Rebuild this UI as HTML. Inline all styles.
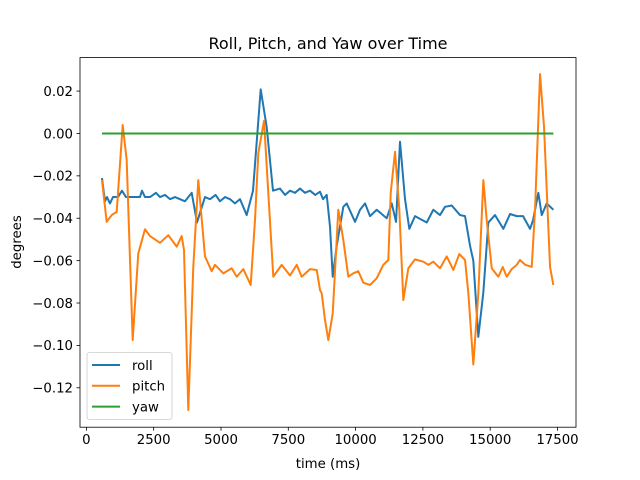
<!DOCTYPE html>
<html><head><meta charset="utf-8">
<style>
html,body{margin:0;padding:0;background:#fff;}
svg{display:block;font-family:"DejaVu Sans","Liberation Sans",sans-serif;}
</style></head>
<body>
<svg id="chart" width="640" height="480" viewBox="0 0 640 480" xmlns="http://www.w3.org/2000/svg">
<rect x="0" y="0" width="640" height="480" fill="#fff"/>
<text x="328" y="49" text-anchor="middle" font-size="16" fill="#000">Roll, Pitch, and Yaw over Time</text>
<g id="plot"></g>
<text x="328" y="468" text-anchor="middle" font-size="13.3" fill="#000">time (ms)</text>
<text transform="translate(21,242) rotate(-90)" text-anchor="middle" font-size="13.3" fill="#000">degrees</text>
</svg>
<script>
const xTicks = [0,2500,5000,7500,10000,12500,15000,17500];
const yTicks = [0.02,0.00,-0.02,-0.04,-0.06,-0.08,-0.10,-0.12];
const yTickLabels = ["0.02","0.00","\u22120.02","\u22120.04","\u22120.06","\u22120.08","\u22120.10","\u22120.12"];
const seriesNames = ["roll","pitch","yaw"];
const rollT = [580,691,765,877,988,1174,1322,1471,1620,1991,2065,2177,2363,2585,2734,2920,3106,3291,3477,3663,3912,4109,4405,4591,4800,4963,5150,5334,5520,5706,5955,6189,6475,6698,6932,7192,7380,7564,7750,7935,8120,8307,8500,8679,8790,8927,9050,9150,9299,9544,9670,9979,10165,10351,10536,10785,11156,11342,11502,11650,11836,11996,12207,12642,12887,13136,13321,13571,13879,14065,14251,14373,14559,14745,14931,15179,15488,15737,15986,16220,16480,16591,16788,16914,17100,17345];
const rollV = [-0.021,-0.032,-0.030,-0.033,-0.030,-0.030,-0.027,-0.030,-0.030,-0.030,-0.027,-0.030,-0.030,-0.028,-0.030,-0.029,-0.031,-0.030,-0.031,-0.032,-0.028,-0.042,-0.030,-0.031,-0.029,-0.032,-0.030,-0.031,-0.033,-0.031,-0.0385,-0.027,0.0208,0.003,-0.027,-0.026,-0.029,-0.027,-0.028,-0.026,-0.028,-0.027,-0.029,-0.0275,-0.031,-0.029,-0.044,-0.0676,-0.053,-0.0346,-0.033,-0.0417,-0.036,-0.033,-0.039,-0.036,-0.040,-0.033,-0.0417,-0.0039,-0.031,-0.045,-0.039,-0.042,-0.036,-0.0385,-0.0346,-0.034,-0.0385,-0.039,-0.053,-0.060,-0.096,-0.075,-0.042,-0.0385,-0.045,-0.038,-0.039,-0.039,-0.045,-0.041,-0.028,-0.0385,-0.033,-0.036];
const pitchT = [580,754,940,1126,1349,1497,1720,1928,2177,2363,2734,3043,3355,3540,3626,3786,3971,4157,4406,4655,4777,5086,5398,5584,5829,6104,6263,6386,6598,6757,6943,7255,7564,7813,7998,8307,8556,8679,8741,8864,8987,9150,9358,9544,9730,9915,10101,10287,10536,10785,11030,11216,11305,11465,11624,11773,11959,12207,12516,12702,12887,13136,13385,13630,13853,14065,14188,14373,14559,14745,14871,15057,15302,15466,15614,15800,15986,16108,16305,16543,16665,16851,17000,17223,17345];
const pitchV = [-0.022,-0.0417,-0.0385,-0.037,0.004,-0.0125,-0.0975,-0.0566,-0.0452,-0.0484,-0.0516,-0.048,-0.0534,-0.0484,-0.055,-0.1305,-0.063,-0.022,-0.058,-0.065,-0.062,-0.066,-0.0636,-0.0676,-0.064,-0.0715,-0.0409,-0.0094,0.006,-0.028,-0.0676,-0.062,-0.067,-0.062,-0.0676,-0.064,-0.0644,-0.0739,-0.0754,-0.088,-0.0975,-0.085,-0.036,-0.0503,-0.0676,-0.066,-0.065,-0.0704,-0.0715,-0.0683,-0.062,-0.0597,-0.028,-0.0086,-0.036,-0.0786,-0.0636,-0.0594,-0.0605,-0.062,-0.0605,-0.0636,-0.058,-0.0644,-0.0569,-0.0597,-0.0754,-0.109,-0.0754,-0.022,-0.0409,-0.0636,-0.0676,-0.063,-0.0676,-0.064,-0.062,-0.0597,-0.062,-0.063,-0.036,0.028,0.003,-0.063,-0.0715];
const yawT = [580,17345];
const yawV = [0,0];

const L=80,R=576,T=57.6,B=427.2;
const xMin=-237,xMax=18187,yMin=-0.1386,yMax=0.0358;
const sx=v=>L+(v-xMin)/(xMax-xMin)*(R-L);
const sy=v=>B-(v-yMin)/(yMax-yMin)*(B-T);
const NS="http://www.w3.org/2000/svg";
const plot=document.getElementById('plot');
function mk(tag,attrs,parent){const e=document.createElementNS(NS,tag);for(const k in attrs)e.setAttribute(k,attrs[k]);(parent||plot).appendChild(e);return e;}

const colors=["#1f77b4","#ff7f0e","#2ca02c"];
const allT=[rollT,pitchT,yawT], allV=[rollV,pitchV,yawV];
for(let s=0;s<3;s++){
  const pts=allT[s].map((t,i)=>sx(t).toFixed(2)+","+sy(allV[s][i]).toFixed(2)).join(" ");
  const pl=mk('polyline',{points:pts,fill:'none',stroke:colors[s],'stroke-width':2,'stroke-linejoin':'round'});
  
  
}
const frame=mk('rect',{x:L,y:T,width:R-L,height:B-T,fill:'none',stroke:'#000','stroke-width':0.8});



xTicks.forEach(v=>{
  const x=sx(v);
  const tk=mk('line',{x1:x,y1:B,x2:x,y2:B+3.5,stroke:'#000','stroke-width':0.8});
  
  
  const tx=mk('text',{x:x,y:B+17,'text-anchor':'middle','font-size':13.3,fill:'#000'});
  tx.textContent=String(v);
  
  
});
yTicks.forEach((v,i)=>{
  const y=sy(v);
  const tk=mk('line',{x1:L-3.5,y1:y,x2:L,y2:y,stroke:'#000','stroke-width':0.8});
  
  
  const tx=mk('text',{x:L-7,y:y+4.8,'text-anchor':'end','font-size':13.3,fill:'#000'});
  tx.textContent=yTickLabels[i];
  
  
});

const lg=mk('g',{});


mk('rect',{x:87,y:352.5,width:85,height:67,rx:2.5,fill:'#fff','fill-opacity':0.8,stroke:'#ccc','stroke-width':0.8},lg);
seriesNames.forEach((n,i)=>{
  const y=365+i*20.8;
  const ln=mk('line',{x1:92,y1:y,x2:120,y2:y,stroke:colors[i],'stroke-width':2},lg);
  
  
  const t=mk('text',{x:132,y:y+4.8,'font-size':13.3,fill:'#000'},lg);
  t.textContent=n;
  
  
});
</script>
</body></html>
